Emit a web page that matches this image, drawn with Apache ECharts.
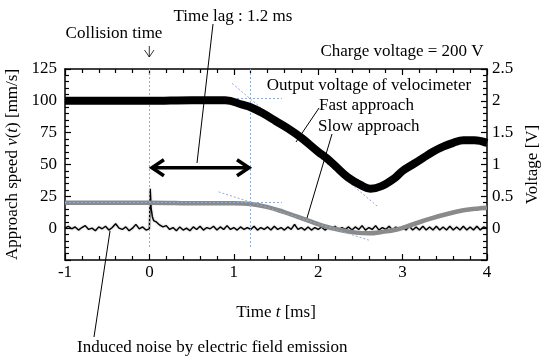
<!DOCTYPE html>
<html>
<head>
<meta charset="utf-8">
<script src="https://cdn.jsdelivr.net/npm/echarts@6.0.0/dist/echarts.min.js"></script>
<style>
  html, body { margin: 0; padding: 0; background: #fff; }
  #main { width: 544px; height: 362px; }
</style>
</head>
<body>
<div id="main"></div>
<script>
// data: [time ms, approach speed mm/s]
const velocimeter = [[-1, 100], [-0.5, 100], [0, 100], [0.5, 100.5], [0.9, 100.5], [1.1, 97], [1.2, 95],
  [1.35, 90], [1.5, 84], [1.65, 78], [1.8, 71], [2.0, 60], [2.1, 55], [2.2, 49], [2.35, 40], [2.5, 34],
  [2.62, 31], [2.75, 33], [2.9, 39], [3.0, 45], [3.12, 50], [3.24, 55], [3.36, 60], [3.48, 64],
  [3.6, 67], [3.72, 69], [3.85, 69], [4.0, 67]];
const slowApproach = [[-1, 20], [0, 20], [0.6, 19.5], [1.0, 19.5], [1.2, 19], [1.4, 16.5], [1.58, 13],
  [1.75, 9], [1.9, 5.5], [2.05, 2], [2.26, -1.5], [2.45, -3.5], [2.6, -4], [2.75, -3], [2.93, -1],
  [3.1, 2.5], [3.33, 7.5], [3.55, 11.5], [3.72, 14], [3.9, 15.5], [4.0, 16]];
const noiseLine = [[-1.00,0],[-0.96,1.5],[-0.92,-0.5],[-0.88,1],[-0.84,-1.5],[-0.80,0.5],[-0.76,2],[-0.72,-1],
  [-0.68,0],[-0.64,-2],[-0.60,1],[-0.56,-0.5],[-0.52,1.5],[-0.48,-1.5],[-0.44,0.5],[-0.40,3.5],[-0.36,0],
  [-0.32,-1],[-0.28,1],[-0.24,-2],[-0.20,0],[-0.16,3],[-0.12,-0.5],[-0.08,1],[-0.04,-1.5],[0.00,-0.5],
  [0.01,31],[0.02,16],[0.035,9],[0.05,6],[0.08,5],[0.12,2.5],[0.16,1],[0.20,2],[0.24,-1],[0.28,0.5],
  [0.32,-2],[0.36,1],[0.40,-1.5],[0.44,0],[0.48,-2],[0.52,1],[0.56,-1],[0.60,1.5],[0.64,-1.5],[0.68,0.5],
  [0.72,-0.5],[0.76,1.5],[0.80,-1.5],[0.84,1],[0.88,-1],[0.92,2],[0.96,-1],[1.00,0.5],[1.04,-1.5],[1.08,1],
  [1.12,-1],[1.16,0.5],[1.20,-1],[1.24,1.5],[1.28,-1.5],[1.32,0.5],[1.36,-1],[1.40,1],[1.44,-1.5],[1.48,1.5],
  [1.52,-1],[1.56,0.5],[1.60,-1.5],[1.64,1],[1.68,-1],[1.72,3],[1.76,-1],[1.80,0.5],[1.84,-1.5],[1.88,1],
  [1.92,-1.5],[1.96,0.5],[2.00,-1],[2.04,1],[2.08,-1.5],[2.12,0.5],[2.16,-1],[2.20,1.5],[2.24,-1.5],[2.28,0.5],
  [2.32,-1],[2.36,1],[2.40,-1.5],[2.44,1],[2.48,-1],[2.52,2],[2.56,-1.5],[2.60,0.5],[2.64,-1],[2.68,2],
  [2.72,-1.5],[2.76,0.5],[2.80,-1],[2.84,1.5],[2.88,-1.5],[2.92,1],[2.96,-1.5],[3.00,1],[3.04,-1.5],[3.08,1.5],
  [3.12,-1.5],[3.16,1],[3.20,-1.5],[3.24,1.5],[3.28,-1.5],[3.32,1],[3.36,-1.5],[3.40,1.5],[3.44,-1.5],[3.48,1],
  [3.52,-1.5],[3.56,1.5],[3.60,-1.5],[3.64,1],[3.68,-1.5],[3.72,1.5],[3.76,-1.5],[3.80,1],[3.84,-1.5],[3.88,1.5],
  [3.92,-1.5],[3.96,1],[4.00,0]];

// dotted guide lines (data coords)
const guideLines = [
  [[0, 125], [0, -15]],
  [[1.2, 125], [1.2, -15]],
  [[-1, 102], [1.57, 102]],
  [[-1, 20.7], [1.57, 20.7]],
  [[0.98, 113.7], [2.71, 16.7]],
  [[0.82, 28.5], [2.6, -9.4]]
];
const lagArrow = [[0.03, 47.5], [1.18, 47.5]];

const xTicks = { min: -1, max: 4, interval: 1 };
const speedTicks = { min: -25, max: 125, interval: 25 };
const voltTicks = { min: -0.5, max: 2.5, interval: 0.5 };

const FONT = 'Liberation Serif';
const chart = echarts.init(document.getElementById('main'));

// fresh objects per axis
const frame = () => ({
  axisLine: { show: true, onZero: false, lineStyle: { color: '#000', width: 1.5 } },
  axisTick: { show: true, inside: true, length: 6, lineStyle: { color: '#000', width: 1.2 } },
  minorTick: { show: true, splitNumber: 5, length: 4, lineStyle: { color: '#000', width: 1.2 } },
  splitLine: { show: false }
});
const labelStyle = () => ({ color: '#000', fontFamily: FONT, fontSize: 17 });
const italic = () => ({ fontStyle: 'italic', fontFamily: FONT, fontSize: 17, color: '#000' });
const box = () => ({ left: 65, right: 57, top: 69, bottom: 102, containLabel: false, outerBoundsMode: 'none' });

// grid 0 holds the data (bottom/left axes), grid 1 overlays it for the top/right axes
const option = {
  animation: false,
  grid: [box(), box()],
  xAxis: [{
    gridIndex: 0, type: 'value', ...xTicks, position: 'bottom', ...frame(),
    axisLabel: { ...labelStyle(), margin: 4 },
    name: 'Time {i|t} [ms]', nameLocation: 'middle', nameGap: 44,
    nameTextStyle: { ...labelStyle(), rich: { i: italic() } }
  }, {
    gridIndex: 1, type: 'value', ...xTicks, position: 'top', ...frame(),
    axisLabel: { show: false }
  }],
  yAxis: [{
    gridIndex: 0, type: 'value', ...speedTicks, position: 'left', ...frame(),
    axisLabel: { ...labelStyle(), margin: 8, formatter: v => (v < 0 ? '' : String(v)) },
    name: 'Approach speed {i|v}({i|t}) [mm/s]', nameLocation: 'middle', nameRotate: 90, nameGap: 40,
    nameTextStyle: { ...labelStyle(), rich: { i: italic() } }
  }, {
    gridIndex: 1, type: 'value', ...voltTicks, position: 'right', ...frame(),
    axisLabel: { ...labelStyle(), margin: 5, formatter: v => (v < 0 ? '' : String(v)) },
    name: 'Voltage [V]', nameLocation: 'middle', nameRotate: 90, nameGap: 36,
    nameTextStyle: labelStyle()
  }],
  series: [
    {
      type: 'line', xAxisIndex: 0, yAxisIndex: 0, data: noiseLine, symbol: 'none',
      lineStyle: { color: '#000', width: 1.4, shadowColor: 'rgba(0,0,0,0.35)', shadowBlur: 2 }, z: 3
    },
    {
      type: 'line', xAxisIndex: 0, yAxisIndex: 0, data: slowApproach, symbol: 'none', smooth: 0.4,
      lineStyle: { color: '#8a8a8a', width: 4.5 }, z: 4
    },
    {
      type: 'line', xAxisIndex: 0, yAxisIndex: 0, data: velocimeter, symbol: 'none', smooth: 0.4,
      lineStyle: { color: '#000', width: 8 }, z: 5
    },
    {
      type: 'line', xAxisIndex: 0, yAxisIndex: 0, data: [], symbol: 'none', z: 2,
      markLine: {
        silent: true, symbol: 'none', animation: false,
        lineStyle: { color: '#8ea9d6', width: 1, type: [2, 2] },
        label: { show: false },
        data: guideLines.map(g => [{ coord: g[0] }, { coord: g[1] }])
      }
    }
  ]
};
chart.setOption(option);

// annotations
const a0 = chart.convertToPixel({ gridIndex: 0 }, lagArrow[0]);
const a1 = chart.convertToPixel({ gridIndex: 0 }, lagArrow[1]);
const line = (pts, w) => ({ type: 'polyline', shape: { points: pts }, style: { stroke: '#000', lineWidth: w, fill: null }, z: 10 });
const text = (t, x, y, align) => ({
  type: 'text', x: x, y: y, z: 10,
  style: { text: t, fontFamily: FONT, fontSize: 17, fill: '#000', align: align || 'left', verticalAlign: 'middle' }
});
chart.setOption({
  graphic: [
    line([a0, a1], 3.5),
    line([[a0[0] + 12, a0[1] - 8], a0, [a0[0] + 12, a0[1] + 8]], 3.5),
    line([[a1[0] - 12, a1[1] - 8], a1, [a1[0] - 12, a1[1] + 8]], 3.5),
    text('Time lag : 1.2 ms', 233, 17, 'center'),
    line([[213, 24], [197, 163]], 1),
    text('Collision time', 114, 34, 'center'),
    line([[149.3, 46], [149.3, 57]], 0.8),
    line([[144.5, 50], [149.3, 57], [154, 50]], 0.8),
    text('Charge voltage = 200 V', 402, 52, 'center'),
    text('Output voltage of velocimeter', 369, 86, 'center'),
    text('Fast approach', 319, 106),
    line([[319, 108], [296, 142]], 1),
    text('Slow approach', 318, 127),
    line([[332, 134], [307, 218]], 1),
    text('Induced noise by electric field emission', 77, 348),
    line([[110, 231], [94, 337]], 1)
  ]
});
</script>
</body>
</html>
